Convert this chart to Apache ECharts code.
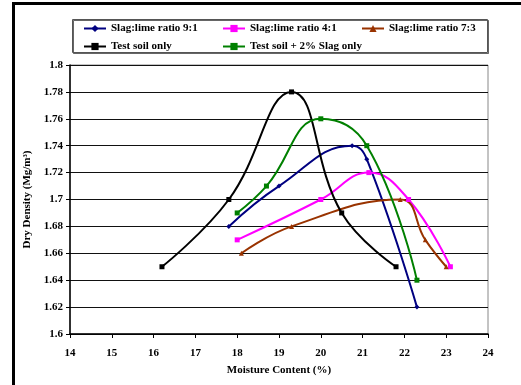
<!DOCTYPE html>
<html>
<head>
<meta charset="utf-8">
<script src="https://cdn.jsdelivr.net/npm/echarts@6/dist/echarts.min.js"></script>
<style>
  html, body { margin: 0; padding: 0; background: #fff; }
  #chart { width: 521px; height: 385px; }
</style>
</head>
<body>
<div id="chart"></div>
<script>
// Compaction curves: moisture content (%) against dry density (Mg/m3)
const moisture91 = [17.8, 19.0, 20.75, 21.1, 22.3];
const density91 = [1.68, 1.71, 1.74, 1.73, 1.62];

const moisture41 = [18.0, 20.0, 21.15, 22.1, 23.1];
const density41 = [1.67, 1.70, 1.72, 1.70, 1.65];

const moisture73 = [18.1, 19.3, 21.9, 22.5, 23.0];
const density73 = [1.66, 1.68, 1.70, 1.67, 1.65];

const moistureSoil = [16.2, 17.8, 19.3, 20.5, 21.8];
const densitySoil = [1.65, 1.70, 1.78, 1.69, 1.65];

const moistureSlag = [18.0, 18.7, 20.0, 21.1, 22.3];
const densitySlag = [1.69, 1.71, 1.76, 1.74, 1.64];

const seriesNames = [
  'Slag:lime ratio 9:1',
  'Slag:lime ratio 4:1',
  'Slag:lime ratio 7:3',
  'Test soil only',
  'Test soil + 2% Slag only'
];

const xTicks = { min: 14, max: 24, interval: 1 };
const yTicks = { min: 1.6, max: 1.8, interval: 0.02 };

const FONT = '"Liberation Serif", "Times New Roman", serif';

function pairs(xs, ys) {
  return xs.map((x, i) => [x, ys[i]]);
}

function curve(name, xs, ys, color, symbol, size) {
  return {
    name: name,
    type: 'line',
    data: pairs(xs, ys),
    smooth: 0.45,
    symbol: symbol,
    symbolSize: size,
    lineStyle: { color: color, width: 2 },
    itemStyle: { color: color },
    emphasis: { disabled: true },
    z: 3
  };
}

const legendText = { fontFamily: FONT, fontWeight: 'bold', fontSize: 11, color: '#000' };

function legendColumn(names, left) {
  return {
    data: names,
    orient: 'vertical',
    left: left,
    top: 23,
    itemWidth: 22,
    itemHeight: 9,
    itemGap: 7,
    padding: 0,
    textStyle: legendText,
    selectedMode: false
  };
}

const chart = echarts.init(document.getElementById('chart'), null, { renderer: 'canvas' });

chart.setOption({
  animation: false,
  backgroundColor: '#fff',
  grid: {
    left: 70, right: 33, top: 65, bottom: 51,
    show: true, borderColor: '#888', borderWidth: 1
  },
  legend: [
    legendColumn([seriesNames[0], seriesNames[3]], 83),
    legendColumn([seriesNames[1], seriesNames[4]], 222),
    legendColumn([seriesNames[2]], 361)
  ],
  graphic: [
    {
      type: 'rect',
      shape: { x: 72.5, y: 19.5, width: 415, height: 33 },
      style: { fill: 'none', stroke: '#555', lineWidth: 1,
               shadowColor: 'rgba(0,0,0,0.6)', shadowOffsetX: 1, shadowOffsetY: 1 },
      z: -1
    },
    {
      type: 'line',
      shape: { x1: 13.5, y1: 3, x2: 13.5, y2: 385 },
      style: { stroke: '#000', lineWidth: 3 }
    },
    {
      type: 'line',
      shape: { x1: 12, y1: 3.5, x2: 521, y2: 3.5 },
      style: { stroke: '#000', lineWidth: 3 }
    }
  ],
  xAxis: {
    type: 'value',
    min: xTicks.min, max: xTicks.max, interval: xTicks.interval,
    name: 'Moisture Content (%)',
    nameLocation: 'middle',
    nameGap: 31,
    nameTextStyle: { fontFamily: FONT, fontWeight: 'bold', fontSize: 11, color: '#000' },
    axisLine: { lineStyle: { color: '#000', width: 1.5 } },
    axisTick: { show: true, inside: false, length: 4, lineStyle: { color: '#000' } },
    axisLabel: { margin: 14, fontFamily: FONT, fontWeight: 'bold', fontSize: 11, color: '#000' },
    splitLine: { show: false }
  },
  yAxis: {
    type: 'value',
    min: yTicks.min, max: yTicks.max, interval: yTicks.interval,
    name: 'Dry Density (Mg/m³)',
    nameLocation: 'middle',
    nameGap: 33,
    nameRotate: 90,
    nameTextStyle: { fontFamily: FONT, fontWeight: 'bold', fontSize: 11, color: '#000' },
    axisLine: { show: true, lineStyle: { color: '#000', width: 1.5 } },
    axisTick: { show: true, inside: false, length: 4, lineStyle: { color: '#000' } },
    axisLabel: { margin: 7, fontFamily: FONT, fontWeight: 'bold', fontSize: 11, color: '#000' },
    splitLine: { show: true, lineStyle: { color: '#111', width: 1 } }
  },
  series: [
    curve(seriesNames[0], moisture91, density91, '#000080', 'diamond', 5),
    curve(seriesNames[1], moisture41, density41, '#ff00ff', 'rect', 5),
    curve(seriesNames[2], moisture73, density73, '#993300', 'triangle', 5),
    curve(seriesNames[3], moistureSoil, densitySoil, '#000000', 'rect', 5),
    curve(seriesNames[4], moistureSlag, densitySlag, '#008000', 'rect', 5)
  ]
});
</script>
</body>
</html>
